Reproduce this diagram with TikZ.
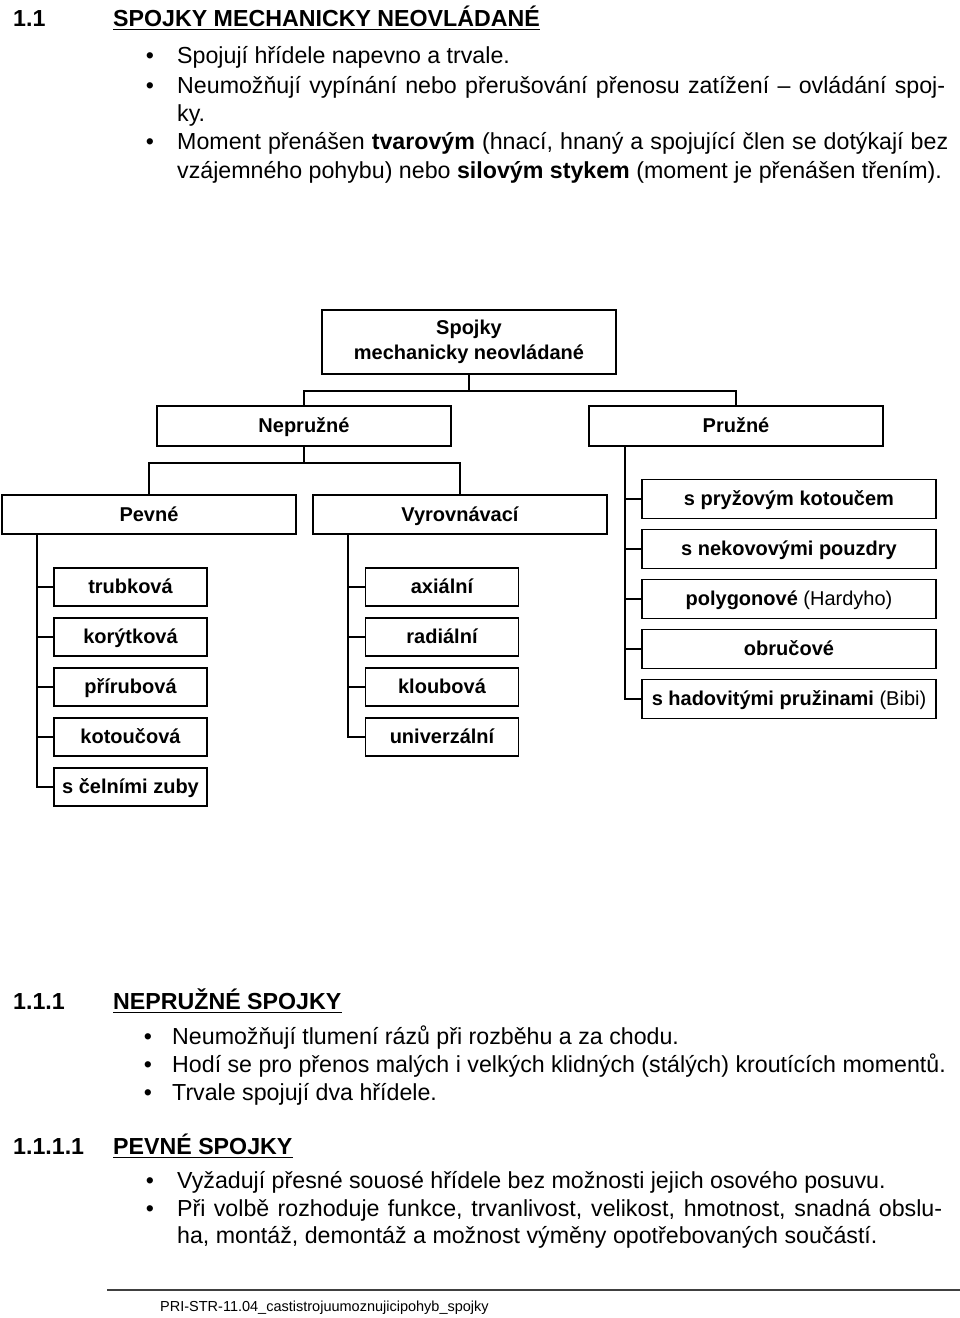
\documentclass[tikz,border=0pt]{standalone}
\usepackage{fontspec}
\setmainfont{Liberation Sans}
\newcommand\treefont{\fontsize{20}{25}\selectfont\bfseries}
\newcommand\bodyfont{\fontsize{23.2}{28}\selectfont}
\newcommand\headfont{\fontsize{23.2}{28}\selectfont\bfseries}
\tikzset{
  box/.style={draw, line width=1.6pt, minimum height=39pt, inner sep=0pt, font=\treefont, align=center},
  widebox/.style={box, minimum width=294pt},
  smallbox/.style={box, minimum width=153pt},
  fixt/.style={text height=16pt, text depth=3pt},
  conn/.style={line width=1.5pt},
  body/.style={anchor=base west, inner sep=0pt, font=\bodyfont},
  head/.style={anchor=base west, inner sep=0pt, font=\headfont},
  bul/.style={anchor=base, inner sep=0pt, font=\bodyfont},
  uline/.style={line width=1.5pt},
}
\begin{document}
\begin{tikzpicture}[x=1pt,y=-1pt]
\useasboundingbox (0,0) rectangle (960,1318);
% ---------- top section ----------
\node[head] (h1n) at (13,26) {1.1};
\node[head] (h1t) at (113,26) {SPOJKY MECHANICKY NEOVLÁDANÉ};
\draw[uline] ([yshift=-3.5pt]h1t.base west) -- ([yshift=-3.5pt]h1t.base east);
\node[bul] (b1) at (150,63) {•};
\node[body] (l1) at (177,63) {Spojují hřídele napevno a trvale.};
\node[bul] (b2) at (150,93) {•};
\node[body] (l2) at (177,93) {\makebox[768pt][s]{Neumožňují vypínání nebo přerušování přenosu zatížení – ovládání spoj-}};
\node[body] (l3) at (177,121) {ky.};
\node[bul] (b3) at (150,149) {•};
\node[body] (l4) at (177,149) {\makebox[771pt][s]{Moment přenášen \textbf{tvarovým} (hnací, hnaný a spojující člen se dotýkají bez}};
\node[body] (l5) at (177,178) {vzájemného pohybu) nebo \textbf{silovým stykem} (moment je přenášen třením).};
% ---------- tree ----------
\node[widebox, minimum height=64pt] (root) at (469,342) {Spojky\\mechanicky neovládané};
\node[widebox, fixt, minimum height=40pt] (nepr) at (304,426) {Nepružné};
\node[widebox, fixt, minimum height=40pt] (pruz) at (736,426) {Pružné};
\node[widebox, fixt] (pev) at (149,514.5) {Pevné};
\node[widebox, fixt] (vyr) at (460,514.5) {Vyrovnávací};
% Pevne children
\node[smallbox, fixt, minimum height=38pt] (p1) at (130.5,587) {trubková};
\node[smallbox, fixt, minimum height=38pt] (p2) at (130.5,637) {korýtková};
\node[smallbox, fixt, minimum height=38pt] (p3) at (130.5,687) {přírubová};
\node[smallbox, fixt, minimum height=38pt] (p4) at (130.5,737) {kotoučová};
\node[smallbox, fixt, minimum height=38pt] (p5) at (130.5,787) {s čelními zuby};
% Vyrovnavaci children
\node[smallbox, fixt, minimum height=38pt] (v1) at (442,587) {axiální};
\node[smallbox, fixt, minimum height=38pt] (v2) at (442,637) {radiální};
\node[smallbox, fixt, minimum height=38pt] (v3) at (442,687) {kloubová};
\node[smallbox, fixt, minimum height=38pt] (v4) at (442,737) {univerzální};
% Pruzne children
\node[widebox, fixt] (r1) at (789,499) {s pryžovým kotoučem};
\node[widebox, fixt] (r2) at (789,549) {s nekovovými pouzdry};
\node[widebox, fixt] (r3) at (789,599) {polygonové \mdseries(Hardyho)};
\node[widebox, fixt] (r4) at (789,649) {obručové};
\node[widebox, fixt] (r5) at (789,699) {s hadovitými pružinami \mdseries(Bibi)};
% connectors
\coordinate (j1) at (469,391);
\draw[conn] (root.south) -- (j1);
\draw[conn] (j1) -| (nepr.north);
\draw[conn] (j1) -| (pruz.north);
\coordinate (j2) at (304,463);
\draw[conn] (nepr.south) -- (j2);
\draw[conn] (j2) -| (pev.north);
\draw[conn] (j2) -| (vyr.north);
\coordinate (tp) at ([xshift=36pt]pev.south west);
\draw[conn] (tp) |- (p5.west);
\foreach \c in {p1,p2,p3,p4} \draw[conn] (\c.west -| tp) -- (\c.west);
\coordinate (tv) at ([xshift=36pt]vyr.south west);
\draw[conn] (tv) |- (v4.west);
\foreach \c in {v1,v2,v3} \draw[conn] (\c.west -| tv) -- (\c.west);
\coordinate (tr) at ([xshift=37pt]pruz.south west);
\draw[conn] (tr) |- (r5.west);
\foreach \c in {r1,r2,r3,r4} \draw[conn] (\c.west -| tr) -- (\c.west);
% ---------- bottom sections ----------
\node[head] (h2n) at (13,1009) {1.1.1};
\node[head] (h2t) at (113,1009) {NEPRUŽNÉ SPOJKY};
\draw[uline] ([yshift=-3.5pt]h2t.base west) -- ([yshift=-3.5pt]h2t.base east);
\node[bul] (b4) at (148,1044) {•};
\node[body] (m1) at (172,1044) {Neumožňují tlumení rázů při rozběhu a za chodu.};
\node[bul] (b5) at (148,1072) {•};
\node[body] (m2) at (172,1072) {Hodí se pro přenos malých i velkých klidných (stálých) kroutících momentů.};
\node[bul] (b6) at (148,1100) {•};
\node[body] (m3) at (172,1100) {Trvale spojují dva hřídele.};
\node[head] (h3n) at (13,1154) {1.1.1.1};
\node[head] (h3t) at (113,1154) {PEVNÉ SPOJKY};
\draw[uline] ([yshift=-3.5pt]h3t.base west) -- ([yshift=-3.5pt]h3t.base east);
\node[bul] (b7) at (150,1188) {•};
\node[body] (n1) at (177,1188) {Vyžadují přesné souosé hřídele bez možnosti jejich osového posuvu.};
\node[bul] (b8) at (150,1216) {•};
\node[body] (n2) at (177,1216) {\makebox[765pt][s]{Při volbě rozhoduje funkce, trvanlivost, velikost, hmotnost, snadná obslu-}};
\node[body] (n3) at (177,1243) {ha, montáž, demontáž a možnost výměny opotřebovaných součástí.};
% footer
\coordinate (fl) at (107,1290);
\coordinate (fr) at (960,1290);
\draw[line width=1.2pt, black!75] (fl) -- (fr);
\node[anchor=base west, inner sep=0pt, font=\fontsize{14.5}{16}\selectfont] (foot) at (160,1311) {PRI-STR-11.04\_castistrojuumoznujicipohyb\_spojky};
\end{tikzpicture}
\end{document}
